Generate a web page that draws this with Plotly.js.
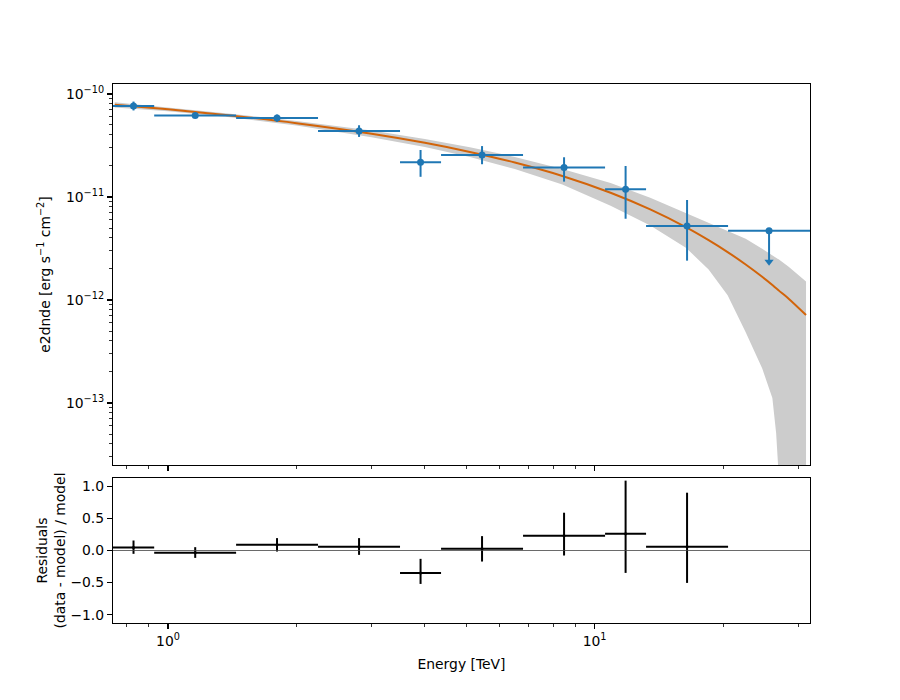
<!DOCTYPE html>
<html>
<head>
<meta charset="utf-8">
<script src="https://cdn.plot.ly/plotly-3.0.1.min.js"></script>
<style>html,body{margin:0;padding:0;background:#fff;}</style>
</head>
<body>
<div id="chart" style="width:900px;height:700px;"></div>
<script>
// ---- Flux points (TeV, erg cm-2 s-1) ----
const e_min  = [0.743, 0.928, 1.444, 2.247, 3.498, 4.365, 6.795, 10.58, 13.20, 20.55];
const e_max  = [0.928, 1.444, 2.247, 3.498, 4.365, 6.795, 10.58, 13.20, 20.55, 31.98];
const e_ref  = [0.830, 1.158, 1.801, 2.804, 3.908, 5.446, 8.479, 11.82, 16.47, 25.64];
const e2dnde      = [7.64e-11, 6.18e-11, 5.85e-11, 4.37e-11, 2.17e-11, 2.56e-11, 1.93e-11, 1.19e-11, 5.23e-12, 4.71e-12];
const e2dnde_errp = [0.80e-11, 0.20e-11, 0.46e-11, 0.60e-11, 0.69e-11, 0.56e-11, 0.50e-11, 0.81e-11, 4.12e-12, 0];
const e2dnde_errn = [0.72e-11, 0.20e-11, 0.48e-11, 0.54e-11, 0.60e-11, 0.48e-11, 0.52e-11, 0.575e-11, 2.82e-12, 0];
const is_ul       = [false, false, false, false, false, false, false, false, false, true];

// ---- Model curve and error band ----
const model_e  = [0.75, 1.0, 1.4, 2.0, 3.0, 4.0, 5.1, 6.5, 8.4, 10.9, 13.5, 16.4, 18.5, 20.5, 22.6, 24.7, 26.1, 26.64, 26.9, 27.0, 28.5, 31.3];
const model_f  = [7.85e-11, 7.10e-11, 6.18e-11, 5.21e-11, 4.12e-11, 3.36e-11, 2.74e-11, 2.16e-11, 1.60e-11, 1.10e-11, 7.57e-12, 5.07e-12, 3.81e-12, 2.92e-12, 2.21e-12, 1.68e-12, 1.40e-12, 1.30e-12, 1.26e-12, 1.24e-12, 1.03e-12, 7.15e-13];
const band_hi  = [8.33e-11, 7.42e-11, 6.43e-11, 5.47e-11, 4.43e-11, 3.66e-11, 3.04e-11, 2.45e-11, 1.87e-11, 1.37e-11, 9.84e-12, 6.94e-12, 5.64e-12, 4.72e-12, 3.93e-12, 3.14e-12, 2.68e-12, 2.55e-12, 2.50e-12, 2.49e-12, 2.10e-12, 1.51e-12];
const band_lo  = [7.38e-11, 6.78e-11, 5.93e-11, 4.95e-11, 3.81e-11, 3.06e-11, 2.44e-11, 1.87e-11, 1.32e-11, 8.24e-12, 5.30e-12, 3.19e-12, 1.98e-12, 1.11e-12, 4.86e-13, 2.18e-13, 1.12e-13, 5.1e-14, 2.6e-14, 1e-16, 1e-16, 1e-16];

// ---- Residuals (data - model) / model ----
const resid      = [0.047, -0.036, 0.089, 0.057, -0.349, 0.026, 0.229, 0.26, 0.057];
const resid_errp = [0.109, 0.088, 0.104, 0.136, 0.219, 0.198, 0.360, 0.829, 0.844];
const resid_errn = [0.099, 0.079, 0.105, 0.125, 0.172, 0.198, 0.307, 0.609, 0.562];

// ---- Tick labels ----
const xTickVals = [1, 10];
const xTickText = ['10<sup>0</sup>', '10<sup>1</sup>'];
const yTickVals = [1e-13, 1e-12, 1e-11, 1e-10];
const yTickText = ['10<sup>\u221213</sup>', '10<sup>\u221212</sup>', '10<sup>\u221211</sup>', '10<sup>\u221210</sup>'];
const rTickVals = [-1, -0.5, 0, 0.5, 1];
const yRange = [2.5e-14, 1.25e-10];
const rRange = [-1.13, 1.13];

// ---- helpers ----
const idxPts = [], idxUL = [];
is_ul.forEach((u, i) => (u ? idxUL : idxPts).push(i));
const pick = (arr, idx) => idx.map(i => arr[i]);
function minorVals(lo, hi) {
  const out = [];
  for (let n = Math.floor(Math.log10(lo)) - 1; n <= Math.ceil(Math.log10(hi)); n++) {
    for (let k = 2; k <= 9; k++) {
      const v = k * Math.pow(10, n);
      if (v > lo && v < hi) out.push(v);
    }
  }
  return out;
}

const blue = '#1f77b4';
const orange = '#d2640a';
const xr = [Math.log10(e_min[0]), Math.log10(e_max[e_max.length - 1])];
const yr = [Math.log10(yRange[0]), Math.log10(yRange[1])];
const xMinor = minorVals(e_min[0], e_max[e_max.length - 1]);
const yMinor = minorVals(yRange[0], yRange[1]);

const traces = [];
traces.push({x: model_e, y: band_lo, mode: 'lines', line: {width: 0, color: '#cccccc'},
  xaxis: 'x', yaxis: 'y', hoverinfo: 'skip', showlegend: false});
traces.push({x: model_e, y: band_hi, mode: 'lines', line: {width: 0, color: '#cccccc'},
  fill: 'tonexty', fillcolor: '#cccccc', xaxis: 'x', yaxis: 'y', hoverinfo: 'skip', showlegend: false});
traces.push({x: model_e, y: model_f, mode: 'lines', line: {width: 2, color: orange, shape: 'spline', smoothing: 0.8},
  xaxis: 'x', yaxis: 'y', showlegend: false});

// flux points
traces.push({
  x: pick(e_ref, idxPts), y: pick(e2dnde, idxPts), mode: 'markers',
  marker: {color: blue, size: 7},
  error_x: {type: 'data', symmetric: false,
    array: idxPts.map(i => e_max[i] - e_ref[i]), arrayminus: idxPts.map(i => e_ref[i] - e_min[i]),
    color: blue, thickness: 2, width: 0},
  error_y: {type: 'data', symmetric: false,
    array: pick(e2dnde_errp, idxPts), arrayminus: pick(e2dnde_errn, idxPts),
    color: blue, thickness: 2, width: 0},
  xaxis: 'x', yaxis: 'y', showlegend: false
});
// upper limits
traces.push({
  x: pick(e_ref, idxUL), y: pick(e2dnde, idxUL), mode: 'markers',
  marker: {color: blue, size: 7},
  error_x: {type: 'data', symmetric: false,
    array: idxUL.map(i => e_max[i] - e_ref[i]), arrayminus: idxUL.map(i => e_ref[i] - e_min[i]),
    color: blue, thickness: 2, width: 0},
  error_y: {type: 'data', symmetric: false,
    array: idxUL.map(() => 0), arrayminus: idxUL.map(i => 0.5 * e2dnde[i]),
    color: blue, thickness: 2, width: 0},
  xaxis: 'x', yaxis: 'y', showlegend: false
});
traces.push({
  x: pick(e_ref, idxUL), y: idxUL.map(i => 0.5 * e2dnde[i]), mode: 'markers',
  marker: {color: blue, size: 8, symbol: 'triangle-down'},
  xaxis: 'x', yaxis: 'y', showlegend: false
});

// residuals
traces.push({
  x: pick(e_ref, idxPts), y: resid, mode: 'markers',
  marker: {color: 'black', size: 3},
  error_x: {type: 'data', symmetric: false,
    array: idxPts.map(i => e_max[i] - e_ref[i]), arrayminus: idxPts.map(i => e_ref[i] - e_min[i]),
    color: 'black', thickness: 2, width: 0},
  error_y: {type: 'data', symmetric: false, array: resid_errp, arrayminus: resid_errn,
    color: 'black', thickness: 2, width: 0},
  xaxis: 'x2', yaxis: 'y2', showlegend: false
});

// invisible helper traces so the minor-tick overlay axes get drawn
traces.push({x: [e_ref[0]], y: [e2dnde[0]], mode: 'markers', marker: {size: 0, opacity: 0},
  xaxis: 'x3', yaxis: 'y3', hoverinfo: 'skip', showlegend: false});
traces.push({x: [e_ref[0]], y: [resid[0]], mode: 'markers', marker: {size: 0, opacity: 0},
  xaxis: 'x4', yaxis: 'y2', hoverinfo: 'skip', showlegend: false});

const font = {family: 'DejaVu Sans', size: 13.9, color: 'black'};
const axCommon = {
  showline: true, mirror: true, linecolor: 'black', linewidth: 1.1,
  ticks: 'outside', ticklen: 5, tickwidth: 1.1, tickcolor: 'black',
  showgrid: false, zeroline: false, tickfont: font
};
const minorAx = {
  showline: false, ticks: 'outside', ticklen: 2.8, tickwidth: 0.8, tickcolor: 'black',
  showgrid: false, zeroline: false, showticklabels: false, tickmode: 'array', type: 'log'
};

const layout = {
  width: 900, height: 700,
  margin: {l: 113, r: 90, t: 84, b: 77, pad: 0},
  paper_bgcolor: 'white', plot_bgcolor: 'white',
  font: font, showlegend: false,
  xaxis: Object.assign({}, axCommon, {
    type: 'log', range: xr, domain: [0, 1], anchor: 'y',
    tickmode: 'array', tickvals: xTickVals, ticktext: xTickText, showticklabels: false
  }),
  yaxis: Object.assign({}, axCommon, {
    type: 'log', range: yr, domain: [0.2931, 1], anchor: 'x',
    tickmode: 'array', tickvals: yTickVals, ticktext: yTickText,
    title: {text: 'e2dnde [erg s<sup>\u22121</sup> cm<sup>\u22122</sup>]', font: font, standoff: 12}
  }),
  xaxis2: Object.assign({}, axCommon, {
    type: 'log', range: xr, domain: [0, 1], anchor: 'y2',
    tickmode: 'array', tickvals: xTickVals, ticktext: xTickText,
    title: {text: 'Energy [TeV]', font: font, standoff: 11}
  }),
  yaxis2: Object.assign({}, axCommon, {
    range: rRange, domain: [0, 0.269], anchor: 'x2',
    tickmode: 'array', tickvals: rTickVals, tickformat: '.1f',
    title: {text: 'Residuals<br>(data - model) / model', font: font}
  }),
  // minor-tick overlay axes
  xaxis3: Object.assign({}, minorAx, {range: xr, overlaying: 'x', anchor: 'y3', side: 'bottom', tickvals: xMinor}),
  yaxis3: Object.assign({}, minorAx, {range: yr, overlaying: 'y', anchor: 'x3', side: 'left', tickvals: yMinor}),
  xaxis4: Object.assign({}, minorAx, {range: xr, overlaying: 'x2', anchor: 'y2', side: 'bottom', tickvals: xMinor}),
  shapes: [{type: 'line', xref: 'x2 domain', x0: 0, x1: 1, yref: 'y2', y0: 0, y1: 0,
            line: {color: '#444444', width: 0.8}, layer: 'above'}]
};

Plotly.newPlot('chart', traces, layout, {staticPlot: true, displayModeBar: false});
</script>
</body>
</html>
